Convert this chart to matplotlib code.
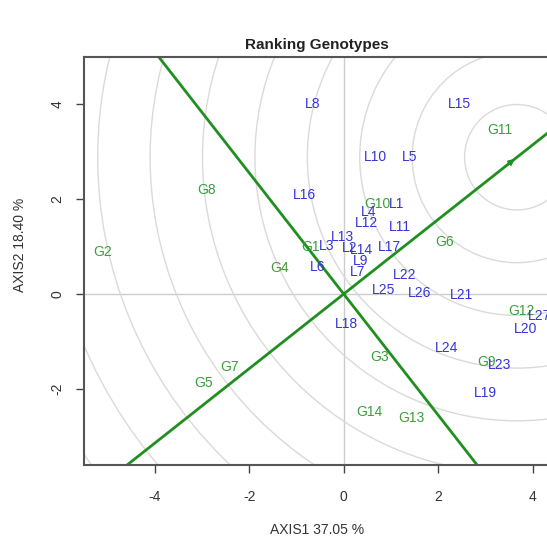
import matplotlib
matplotlib.use("Agg")
import matplotlib.pyplot as plt
from matplotlib.patches import Circle

plt.rcParams['font.family'] = ['Liberation Sans', 'DejaVu Sans']
plt.rcParams['axes.unicode_minus'] = False

# genotipos (verde)
gen_names = ["G1", "G2", "G3", "G4", "G5", "G6", "G7", "G8", "G9", "G10",
             "G11", "G12", "G13", "G14"]
gen_x = [-0.70, -5.11, 0.76, -1.36, -2.97, 2.14, -2.42, -2.90, 3.03, 0.72,
         3.31, 3.77, 1.44, 0.55]
gen_y = [0.99, 0.88, -1.33, 0.55, -1.87, 1.09, -1.54, 2.19, -1.43, 1.89,
         3.45, -0.36, -2.61, -2.48]

# ambientes (azul)
env_names = ["L1", "L2", "L3", "L4", "L5", "L6", "L7", "L8", "L9", "L10",
             "L11", "L12", "L13", "L14", "L15", "L16", "L17", "L18", "L19",
             "L20", "L21", "L22", "L23", "L24", "L25", "L26", "L27"]
env_x = [1.12, 0.13, -0.36, 0.53, 1.40, -0.55, 0.30, -0.66, 0.36, 0.68,
         1.19, 0.49, -0.02, 0.38, 2.46, -0.83, 0.97, 0.06, 3.01,
         3.86, 2.50, 1.29, 3.31, 2.18, 0.85, 1.61, 4.15]
env_y = [1.89, 0.97, 1.01, 1.73, 2.88, 0.57, 0.46, 4.00, 0.69, 2.88,
         1.41, 1.49, 1.20, 0.93, 4.00, 2.08, 0.99, -0.63, -2.08,
         -0.74, -0.02, 0.40, -1.49, -1.14, 0.08, 0.02, -0.46]

# genotipo ideal (ponta da seta) e circulos concentricos
ideal_x, ideal_y = 3.67, 2.88
radii = [1.11, 2.22, 3.33, 4.44, 5.55, 6.66, 7.77, 8.88, 9.99, 11.1]

xticks = [-4, -2, 0, 2, 4]
yticks = [-2, 0, 2, 4]

fig = plt.figure(figsize=(5.47, 5.43), dpi=100)
ax = fig.add_axes([84 / 547, 78 / 543, 467 / 547, 408 / 543])
ax.set_xlim(-5.5, 4.39)
ax.set_ylim(-3.6, 4.99)

ax.axhline(0, color="#cccccc", lw=1, zorder=1)
ax.axvline(0, color="#cccccc", lw=1, zorder=1)

for r in radii:
    ax.add_patch(Circle((ideal_x, ideal_y), r, fill=False,
                        edgecolor="#dadada", lw=1, zorder=1))

ax.axline((0, 0), (ideal_x, ideal_y), color="#1f8f1f", lw=2, zorder=2)
ax.axline((0, 0), slope=-ideal_x / ideal_y, color="#1f8f1f", lw=2, zorder=2)
ax.annotate("", xy=(ideal_x, ideal_y),
            xytext=(ideal_x - 0.3, ideal_y - 0.3 * ideal_y / ideal_x),
            arrowprops=dict(arrowstyle="-|>", color="#1f8f1f", lw=1.5,
                            mutation_scale=8), zorder=3)

for n, x, y in zip(gen_names, gen_x, gen_y):
    ax.text(x, y, n, color="#3a9e3a", fontsize=10, ha="center", va="center", zorder=4)
for n, x, y in zip(env_names, env_x, env_y):
    ax.text(x, y, n, color="#3434d8", fontsize=10, ha="center", va="center", zorder=4)

ax.set_xticks(xticks)
ax.set_xticklabels([str(t) for t in xticks])
ax.set_yticks(yticks)
ax.set_yticklabels([str(t) for t in yticks], rotation=90, va="center")
ax.tick_params(direction="out", length=6, width=1, colors="#444444",
               labelsize=10, labelcolor="#333333")
ax.tick_params(axis="x", pad=12)
ax.tick_params(axis="y", pad=8)
for s in ax.spines.values():
    s.set_color("#555555")
    s.set_linewidth(1.5)

fig.text(317 / 547, 1 - 45 / 543, "Ranking Genotypes", ha="center", va="center",
         fontsize=11, fontweight="bold", color="#222222")
fig.text(317 / 547, 1 - 530 / 543, "AXIS1 37.05 %", ha="center", va="center",
         fontsize=10, color="#333333")
fig.text(20 / 547, 1 - 245 / 543, "AXIS2 18.40 %", ha="center", va="center",
         rotation=90, fontsize=10, color="#333333")

fig.savefig("out.png", dpi=100)
